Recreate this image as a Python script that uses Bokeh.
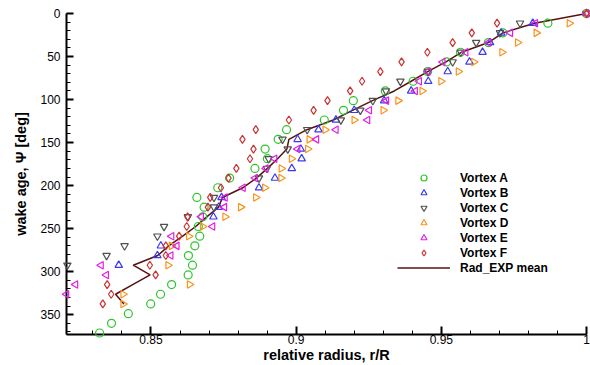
import numpy as np
from bokeh.plotting import figure
from bokeh.models import (Range1d, SingleIntervalTicker, Legend, LegendItem,
                          CustomJSTickFormatter)
from bokeh.embed import file_html
from bokeh.resources import INLINE

nan = float("nan")

# wake age, deg
psi = [0, 11.25, 22.5, 33.75, 45, 56.25, 67.5, 78.75, 90, 101.25, 112.5,
       123.75, 135, 146.25, 157.5, 168.75, 180, 191.25, 202.5, 213.75, 225,
       236.25, 247.5, 258.75, 270, 281.25, 292.5, 303.75, 315, 326.25, 337.5,
       348.75, 360, 371.25]

vortex_a = [1.0, 0.9867, 0.9712, 0.9662, 0.9566, 0.9518, 0.9453, 0.9403, 0.9307,
            0.9197, 0.9163, 0.9097, 0.8967, 0.8938, 0.8893, 0.8901, 0.8858,
            0.8771, 0.8730, 0.8658, 0.8683, 0.8678, 0.8663, 0.8668, 0.8651,
            0.8629, 0.8643, 0.8628, 0.8571, 0.8533, 0.8499, 0.8422, 0.8364,
            0.8323]
vortex_b = [1.0, 0.9815, 0.9706, 0.9668, 0.9642, 0.9597, 0.9522, 0.9455, 0.9396,
            0.9303, 0.9200, 0.9137, 0.9077, 0.9005, 0.9016, 0.9019, 0.8985,
            0.8927, 0.8872, 0.8743, 0.8733, 0.8715, nan, nan, 0.8534, 0.8522,
            0.8389, nan, nan, nan, nan, nan, nan, nan]
vortex_c = [1.0, 0.9771, 0.9702, 0.9620, 0.9567, 0.9539, 0.9454, 0.9359, 0.9309,
            0.9264, 0.9221, 0.9154, 0.9038, 0.8953, 0.8971, 0.8905, 0.8899,
            0.8872, nan, 0.8717, 0.8717, 0.8627, 0.8545, 0.8522, 0.8409,
            0.8347, 0.8212, nan, nan, nan, nan, nan, nan, nan]
vortex_d = [1.0, 0.9941, 0.9827, 0.9763, 0.9709, 0.9612, 0.9559, 0.9499, 0.9434,
            0.9351, 0.9300, 0.9200, 0.9100, 0.9045, 0.9040, 0.8984, 0.8949,
            0.8948, 0.8892, 0.8861, 0.8809, 0.8755, 0.8678, 0.8630, 0.8571,
            nan, 0.8559, nan, 0.8633, 0.8404, 0.8404, nan, nan, nan]
vortex_e = [1.0, 0.9824, 0.9738, 0.9663, 0.9584, 0.9505, 0.9454, 0.9424, 0.9410,
            0.9311, 0.9252, 0.9246, 0.9137, 0.9070, 0.9005, 0.8926, 0.8896,
            0.8859, 0.8817, 0.8755, 0.8753, 0.8673, 0.8712, 0.8571, 0.8589,
            0.8568, 0.8328, 0.8346, 0.8240, 0.8209, nan, nan, nan, nan]
vortex_f = [1.0, 0.9692, 0.9605, 0.9539, 0.9452, 0.9363, 0.9290, 0.9227, 0.9186,
            0.9108, 0.9060, 0.8975, 0.8861, 0.8815, 0.8853, 0.8841, 0.8794,
            0.8767, 0.8741, 0.8704, 0.8696, 0.8626, 0.8623, 0.8597, 0.8551,
            0.8551, 0.8496, 0.8516, 0.8349, 0.8363, 0.8334, nan, nan, nan]

mean_psi = psi[:31]
mean_r = [1.0, 0.9821, 0.9712, 0.9662, 0.9570, 0.9516, 0.9453, 0.9396, 0.9338,
          0.9263, 0.9194, 0.9128, 0.9037, 0.8975, 0.8968, 0.8936, 0.8901,
          0.8863, 0.8816, 0.8746, 0.8733, 0.8692, 0.8654, 0.8609, 0.8561,
          0.8523, 0.8439, 0.8497, 0.8437, 0.8378, 0.8407]

series_names = ["Vortex A", "Vortex B", "Vortex C", "Vortex D", "Vortex E", "Vortex F"]
series_vals = [vortex_a, vortex_b, vortex_c, vortex_d, vortex_e, vortex_f]
series_colors = ["#2cc42c", "#3a3af2", "#505050", "#f7941d", "#e41ee4", "#c83434"]
series_markers = ["circle", "triangle", "inverted_triangle", "triangle", "triangle", "diamond"]
series_angles = [0, 0, 0, -np.pi / 2, np.pi / 2, 0]
series_sizes = [8, 7.5, 7.5, 7.5, 7.5, 8]

FONT = "Liberation Sans"

p = figure(width=590, height=365, output_backend="svg", toolbar_location=None,
           title=None, x_range=Range1d(0.8209, 1.0), y_range=Range1d(373, 0),
           min_border_left=66, min_border_right=4, min_border_top=13,
           min_border_bottom=10)
p.outline_line_color = None
p.xgrid.visible = False
p.ygrid.visible = False
p.background_fill_color = "white"
p.border_fill_color = "white"

xa = p.xaxis[0]
xa.ticker = SingleIntervalTicker(interval=0.05, num_minor_ticks=5)
xa.formatter = CustomJSTickFormatter(code="return (Math.round(tick*100)/100).toString();")
ya = p.yaxis[0]
ya.ticker = SingleIntervalTicker(interval=50, num_minor_ticks=5)

for ax, tin in ((xa, 8), (ya, 7)):
    ax.axis_line_width = 2
    ax.axis_line_color = "black"
    ax.major_tick_in = tin
    ax.major_tick_out = 0
    ax.minor_tick_in = 4
    ax.minor_tick_out = 0
    ax.major_tick_line_width = 2
    ax.minor_tick_line_width = 1
    ax.major_tick_line_color = "black"
    ax.minor_tick_line_color = "black"
    ax.major_label_text_font = FONT
    ax.major_label_text_font_size = "12px"
    ax.major_label_text_color = "black"
    ax.axis_label_text_font = FONT
    ax.axis_label_text_font_size = "14.5px"
    ax.axis_label_text_font_style = "bold"
    ax.axis_label_text_color = "black"

xa.axis_label = "relative radius, r/R"
xa.major_label_standoff = 0
xa.axis_label_standoff = 0
ya.axis_label = "wake age, \u03a8 [deg]"
ya.major_label_standoff = 6
ya.axis_label_standoff = 8

items = []
for name, vals, col, mk, ang, sz in zip(series_names, series_vals, series_colors,
                                        series_markers, series_angles, series_sizes):
    r = p.scatter(x=np.array(vals, dtype=float), y=np.array(psi, dtype=float),
                  marker=mk, angle=ang, size=sz, fill_color=None, line_color=col,
                  line_width=1.2, level="overlay")
    items.append(LegendItem(label=name, renderers=[r]))

lr = p.line(x=mean_r, y=mean_psi, line_color="#561212", line_width=1.5)
items.append(LegendItem(label="Rad_EXP mean", renderers=[lr]))

legend = Legend(items=items, location=(331, 59), padding=0, margin=0, spacing=0,
                glyph_width=53, glyph_height=15, label_height=15, label_standoff=10,
                border_line_color=None, background_fill_alpha=0,
                label_text_font=FONT, label_text_font_size="12px",
                label_text_font_style="bold", label_text_color="black")
p.add_layout(legend, "center")

open("out.html", "w").write(file_html(p, INLINE))
